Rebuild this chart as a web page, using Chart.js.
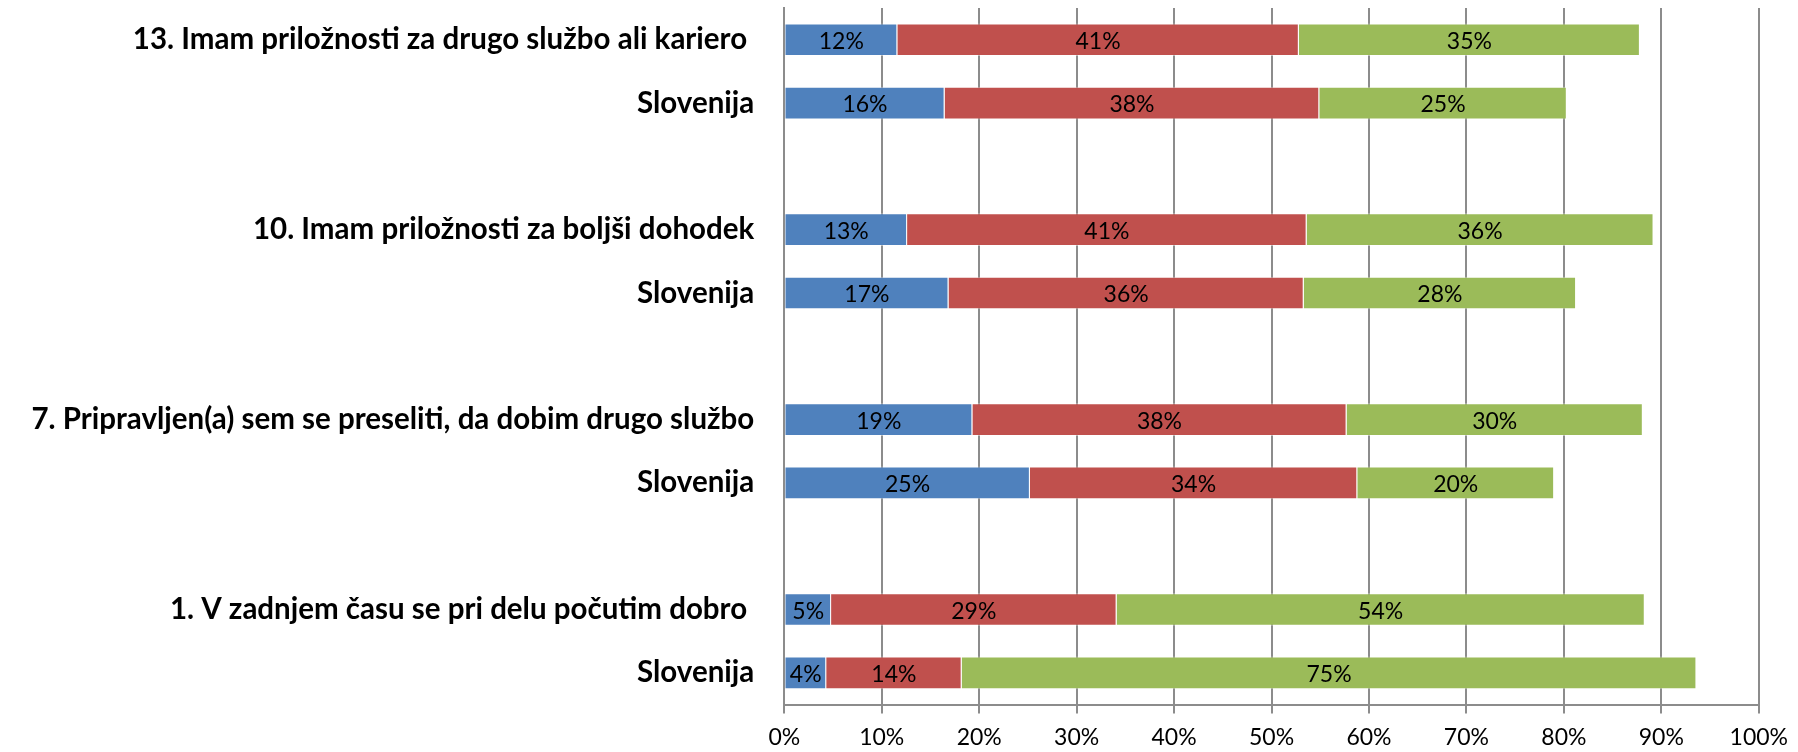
<!DOCTYPE html>
<html>
<head>
<meta charset="utf-8">
<script src="https://cdn.jsdelivr.net/npm/chart.js@4.4.0/dist/chart.umd.min.js"></script>
<style>
  html, body { margin: 0; padding: 0; background: #fff; }
  #wrap { width: 1798px; height: 752px; }
</style>
</head>
<body>
<div id="wrap"><canvas id="chartCanvas"></canvas></div>
<script>
const categories = [
  "13. Imam priložnosti za drugo službo ali kariero ",
  "Slovenija",
  "",
  "10. Imam priložnosti za boljši dohodek",
  "Slovenija",
  "",
  "7. Pripravljen(a) sem se preseliti, da dobim drugo službo",
  "Slovenija",
  "",
  "1. V zadnjem času se pri delu počutim dobro ",
  "Slovenija"
];
const blueValues  = [11.6, 16.45, null, 12.6, 16.85, null, 19.3, 25.2, null, 4.8, 4.3];
const redValues   = [41.2, 38.45, null, 41.0, 36.45, null, 38.4, 33.6, null, 29.3, 13.9];
const greenValues = [35.0, 25.4, null, 35.6, 27.95, null, 30.4, 20.2, null, 54.2, 75.4];

const gridGray = '#8c8c8c';

// percent labels centred in each bar segment
const segmentLabels = {
  id: 'segmentLabels',
  afterDatasetsDraw(chart) {
    const ctx = chart.ctx;
    ctx.save();
    ctx.font = '23px Lato';
    ctx.fillStyle = '#000';
    ctx.textAlign = 'center';
    ctx.textBaseline = 'middle';
    chart.data.datasets.forEach((ds, i) => {
      chart.getDatasetMeta(i).data.forEach((bar, j) => {
        const v = ds.data[j];
        if (v == null) return;
        const p = bar.getProps(['x', 'y', 'base'], true);
        ctx.fillText(Math.round(v) + '%', (p.x + p.base) / 2, p.y + 2);
      });
    });
    ctx.restore();
  }
};

function makeSet(data, color) {
  return {
    data: data,
    backgroundColor: color,
    borderColor: 'rgba(255,255,255,0.45)',
    borderWidth: 1,
    barPercentage: 1,
    categoryPercentage: 0.516
  };
}

new Chart(document.getElementById('chartCanvas').getContext('2d'), {
  type: 'bar',
  data: {
    labels: categories,
    datasets: [
      makeSet(blueValues, '#4F81BD'),
      makeSet(redValues, '#C0504D'),
      makeSet(greenValues, '#9BBB59')
    ]
  },
  options: {
    indexAxis: 'y',
    responsive: true,
    maintainAspectRatio: false,
    animation: false,
    layout: { padding: { top: 8, right: 35, bottom: 0, left: 0 } },
    plugins: {
      legend: { display: false },
      tooltip: { enabled: false }
    },
    scales: {
      x: {
        stacked: true,
        min: 0,
        max: 100,
        ticks: {
          stepSize: 10,
          callback: v => v + '%',
          color: '#000',
          font: { family: 'Lato', size: 23 },
          padding: 10,
          maxRotation: 0,
          autoSkip: false
        },
        grid: { color: gridGray, lineWidth: 2, tickLength: 9, drawTicks: true },
        border: { color: gridGray, width: 2 },
        afterFit: s => { s.height = 47.5; }
      },
      y: {
        stacked: true,
        ticks: {
          color: '#000',
          font: { family: 'Lato', size: 29.5, weight: 'bold', lineHeight: 0.55 },
          padding: 0,
          autoSkip: false
        },
        grid: { display: true, drawOnChartArea: false, drawTicks: true, tickLength: 30, tickColor: 'rgba(0,0,0,0)' },
        border: { display: true, color: gridGray, width: 2 },
        afterFit: s => { s.width = 784.3; }
      }
    }
  },
  plugins: [segmentLabels]
});
</script>
</body>
</html>
